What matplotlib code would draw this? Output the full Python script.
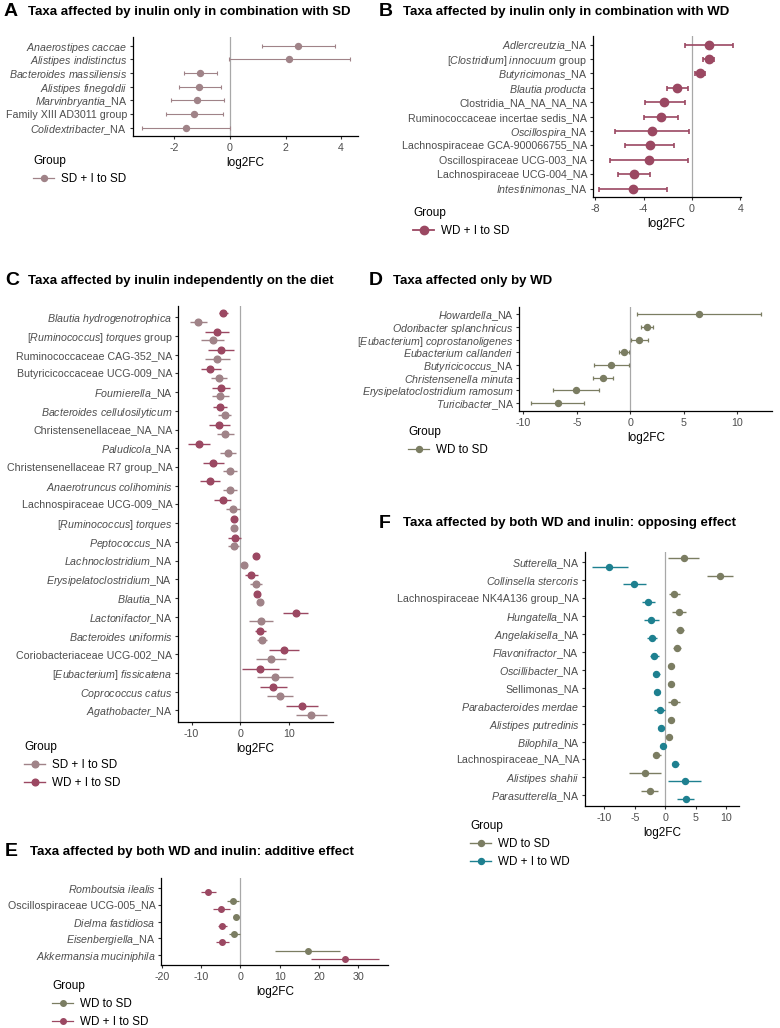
import re
import numpy as np
import matplotlib
matplotlib.use("Agg")
import matplotlib.pyplot as plt
from matplotlib.lines import Line2D

plt.rcParams['font.family'] = ['Liberation Sans', 'DejaVu Sans']
plt.rcParams['mathtext.fontset'] = 'custom'
plt.rcParams['mathtext.it'] = 'Liberation Sans:italic'
plt.rcParams['mathtext.rm'] = 'Liberation Sans'
plt.rcParams['mathtext.bf'] = 'Liberation Sans:bold'

# ---------------- colours ----------------
COL_SDI = '#A08388'   # SD + I to SD
COL_WDI = '#9B4862'   # WD + I to SD
COL_WD = '#7B7D62'    # WD to SD
COL_WDIW = '#1E8090'  # WD + I to WD

# ---------------- data ----------------
# Panel A
A_taxa = ["*Anaerostipes caccae*", "*Alistipes indistinctus*", "*Bacteroides massiliensis*",
          "*Alistipes finegoldii*", "*Marvinbryantia*_NA", "Family XIII AD3011 group",
          "*Colidextribacter*_NA"]
A_sdi_lfc = [2.44, 2.12, -1.07, -1.10, -1.19, -1.28, -1.58]
A_sdi_lo = [1.16, -0.02, -1.64, -1.83, -2.13, -2.30, -3.15]
A_sdi_hi = [3.77, 4.32, -0.46, -0.34, -0.22, -0.25, 0.00]

# Panel B
B_taxa = ["*Adlercreutzia*_NA", "[*Clostridium*] *innocuum* group", "*Butyricimonas*_NA",
          "*Blautia producta*", "Clostridia_NA_NA_NA_NA", "Ruminococcaceae incertae sedis_NA",
          "*Oscillospira*_NA", "Lachnospiraceae GCA-900066755_NA", "Oscillospiraceae UCG-003_NA",
          "Lachnospiraceae UCG-004_NA", "*Intestinimonas*_NA"]
B_wdi_lfc = [1.41, 1.38, 0.69, -1.21, -2.29, -2.59, -3.31, -3.48, -3.59, -4.80, -4.86]
B_wdi_lo = [-0.55, 0.88, 0.22, -2.10, -3.92, -4.00, -6.40, -5.52, -6.79, -6.10, -7.67]
B_wdi_hi = [3.39, 1.82, 1.10, -0.30, -0.61, -1.16, -0.22, -1.46, -0.36, -3.48, -2.07]

# Panel C
C_taxa = ["*Blautia hydrogenotrophica*", "[*Ruminococcus*] *torques* group",
          "Ruminococcaceae CAG-352_NA", "Butyricicoccaceae UCG-009_NA", "*Fournierella*_NA",
          "*Bacteroides cellulosilyticum*", "Christensenellaceae_NA_NA", "*Paludicola*_NA",
          "Christensenellaceae R7 group_NA", "*Anaerotruncus colihominis*",
          "Lachnospiraceae UCG-009_NA", "[*Ruminococcus*] *torques*", "*Peptococcus*_NA",
          "*Lachnoclostridium*_NA", "*Erysipelatoclostridium*_NA", "*Blautia*_NA",
          "*Lactonifactor*_NA", "*Bacteroides uniformis*", "Coriobacteriaceae UCG-002_NA",
          "[*Eubacterium*] *fissicatena*", "*Coprococcus catus*", "*Agathobacter*_NA"]
C_wdi_lfc = [-3.57, -4.88, -3.99, -6.12, -3.99, -4.19, -4.40, -8.52, -5.57, -6.32, -3.64,
             -1.31, -1.17, 3.30, 2.27, 3.37, 11.41, 4.12, 8.93, 4.12, 6.74, 12.65]
C_wdi_lo = [-4.33, -7.35, -6.60, -8.11, -5.77, -5.57, -6.53, -10.79, -7.63, -8.38, -5.43,
            -1.65, -2.54, 3.00, 1.03, 3.07, 8.87, 3.09, 5.84, 0.41, 4.05, 9.42]
C_wdi_hi = [-2.61, -2.41, -1.31, -3.92, -2.13, -2.68, -2.13, -6.19, -3.44, -4.12, -1.99,
            -0.97, 0.20, 3.60, 3.57, 3.67, 14.02, 5.22, 12.10, 7.90, 9.55, 15.88]
C_sdi_lfc = [-8.73, -5.70, -4.81, -4.40, -4.26, -3.23, -3.09, -2.54, -2.13, -2.13, -1.44,
             -1.31, -1.24, 0.82, 3.16, 4.05, 4.26, 4.54, 6.25, 7.08, 8.18, 14.64]
C_sdi_lo = [-10.38, -8.04, -7.29, -6.05, -5.91, -4.54, -4.88, -4.19, -3.57, -3.50, -2.89,
            -1.65, -2.61, 0.52, 1.99, 3.75, 1.79, 3.51, 3.23, 3.51, 5.57, 11.48]
C_sdi_hi = [-6.94, -3.30, -2.13, -2.68, -2.41, -1.92, -1.24, -0.96, -0.62, -0.69, -0.07,
            -0.97, -0.21, 1.12, 4.47, 4.35, 6.80, 5.57, 9.35, 10.79, 10.79, 17.80]

# Panel D
D_taxa = ["*Howardella*_NA", "*Odoribacter splanchnicus*", "[*Eubacterium*] *coprostanoligenes*",
          "*Eubacterium callanderi*", "*Butyricicoccus*_NA", "*Christensenella minuta*",
          "*Erysipelatoclostridium ramosum*", "*Turicibacter*_NA"]
D_wd_lfc = [6.45, 1.53, 0.84, -0.56, -1.78, -2.59, -5.08, -6.79]
D_wd_lo = [0.62, 0.97, 0.09, -1.09, -3.40, -3.46, -7.26, -9.25]
D_wd_hi = [12.21, 2.15, 1.68, -0.09, -0.16, -1.65, -2.90, -4.30]

# Panel E
E_taxa = ["*Romboutsia ilealis*", "Oscillospiraceae UCG-005_NA", "*Dielma fastidiosa*",
          "*Eisenbergiella*_NA", "*Akkermansia muciniphila*"]
E_wd_lfc = [np.nan, -1.86, -1.10, -1.53, 17.20]
E_wd_lo = [np.nan, -3.39, -1.78, -2.97, 8.90]
E_wd_hi = [np.nan, -0.34, -0.42, -0.08, 25.42]
E_wdi_lfc = [-8.31, -4.83, -4.58, -4.58, 26.53]
E_wdi_lo = [-10.08, -6.86, -5.59, -6.10, 17.97]
E_wdi_hi = [-6.27, -2.63, -3.39, -2.88, 35.17]

# Panel F
F_taxa = ["*Sutterella*_NA", "*Collinsella stercoris*", "Lachnospiraceae NK4A136 group_NA",
          "*Hungatella*_NA", "*Angelakisella*_NA", "*Flavonifractor*_NA", "*Oscillibacter*_NA",
          "Sellimonas_NA", "*Parabacteroides merdae*", "*Alistipes putredinis*",
          "*Bilophila*_NA", "Lachnospiraceae_NA_NA", "*Alistipes shahii*", "*Parasutterella*_NA"]
F_wd_lfc = [3.00, 8.91, 1.48, 2.19, 2.40, 1.91, 0.87, 0.87, 1.37, 0.98, 0.66, -1.48, -3.33, -2.57]
F_wd_lo = [0.49, 6.78, 0.60, 1.04, 1.75, 1.20, 0.40, 0.40, 0.49, 0.49, 0.25, -2.08, -6.01, -4.04]
F_wd_hi = [5.57, 11.04, 2.46, 3.39, 3.00, 2.57, 1.35, 1.35, 2.35, 1.47, 1.05, -0.77, -0.71, -1.15]
F_wdiw_lfc = [-9.18, -5.08, -2.79, -2.30, -2.19, -1.80, -1.48, -1.37, -0.93, -0.66, -0.33, 1.58, 3.17, 3.33]
F_wdiw_lo = [-12.08, -6.89, -3.77, -3.50, -2.95, -2.46, -2.02, -1.85, -1.91, -1.09, -0.70, 1.04, 0.49, 1.97]
F_wdiw_hi = [-6.12, -3.22, -1.69, -1.09, -1.37, -1.09, -0.93, -0.85, 0.00, -0.22, 0.05, 2.19, 5.90, 4.75]

# ---------------- helpers ----------------
W, H = 780, 1028
fig = plt.figure(figsize=(W / 100, H / 100), dpi=100)


def fmt(label):
    def rep(m):
        inner = m.group(1).replace(' ', r'\ ')
        return r'$\mathit{' + inner + '}$'
    return re.sub(r'\*(.+?)\*', rep, label)


def axes_px(left, right, top, bottom):
    return fig.add_axes([left / W, 1 - bottom / H, (right - left) / W, (bottom - top) / H])


TICK_COL = '#4D4D4D'


def panel(ax, taxa, series, xlim, xticks, ms, lw, cap, dodge=0.23):
    n = len(taxa)
    ypos = np.arange(n)[::-1].astype(float)
    ax.axvline(0, color='#A8A8A8', lw=0.9, zorder=1)
    offs = [0.0] if len(series) == 1 else [dodge, -dodge]
    for (color, est, lo, hi), off in zip(series, offs):
        est = np.asarray(est, float)
        lo = np.asarray(lo, float)
        hi = np.asarray(hi, float)
        ok = ~np.isnan(est)
        ax.errorbar(est[ok], ypos[ok] + off, xerr=[est[ok] - lo[ok], hi[ok] - est[ok]],
                    fmt='o', color=color, ms=ms, lw=lw, capsize=cap, capthick=lw, zorder=3)
    ax.set_yticks(ypos)
    ax.set_yticklabels([fmt(t) for t in taxa])
    ax.set_ylim(-0.6, n - 1 + 0.6)
    ax.set_xlim(*xlim)
    ax.set_xticks(xticks)
    ax.set_xticklabels([str(t) for t in xticks])
    for s in ['top', 'right']:
        ax.spines[s].set_visible(False)
    for s in ['left', 'bottom']:
        ax.spines[s].set_linewidth(0.9)
        ax.spines[s].set_color('black')
    ax.tick_params(axis='both', length=2.5, width=0.8, color='#333333',
                   labelcolor=TICK_COL, labelsize=7.7, pad=1.5)
    ax.tick_params(axis='x', pad=2.5)
    ax.set_xlabel('log2FC', fontsize=8.5, color='black', labelpad=3)
    ax.patch.set_alpha(0)


def title(x_letter, x_text, y, letter, text):
    fig.text(x_letter / W, 1 - y / H, letter, fontsize=14, fontweight='bold',
             va='center', ha='left')
    fig.text(x_text / W, 1 - y / H, text, fontsize=9.5, fontweight='bold',
             va='center', ha='left')


def legend(x, y, entries, ms, lw):
    handles = [Line2D([0], [0], color=c, marker='o', ms=ms, lw=lw) for c, _ in entries]
    labels = [l for _, l in entries]
    lg = fig.legend(handles, labels, title='Group', loc='upper left',
                    bbox_to_anchor=(x / W, 1 - y / H), frameon=False, fontsize=8.4,
                    title_fontsize=8.5, alignment='left', borderpad=0, borderaxespad=0,
                    handlelength=1.8, handletextpad=0.6, labelspacing=0.5)
    return lg


# ---------------- Panel A ----------------
axA = axes_px(132.5, 358, 37.3, 136)
panel(axA, A_taxa, [(COL_SDI, A_sdi_lfc, A_sdi_lo, A_sdi_hi)],
      (-3.51, 4.61), [-2, 0, 2, 4], ms=4.3, lw=0.8, cap=1.2)
title(4, 28, 12, 'A', 'Taxa affected by inulin only in combination with SD')
legend(33, 155, [(COL_SDI, 'SD + I to SD')], ms=4.3, lw=0.9)

# ---------------- Panel B ----------------
axB = axes_px(592.7, 740.7, 36, 197.3)
panel(axB, B_taxa, [(COL_WDI, B_wdi_lfc, B_wdi_lo, B_wdi_hi)],
      (-8.22, 4.03), [-8, -4, 0, 4], ms=6.0, lw=1.2, cap=1.8)
title(379, 403, 12, 'B', 'Taxa affected by inulin only in combination with WD')
legend(413, 207, [(COL_WDI, 'WD + I to SD')], ms=6.0, lw=1.3)

# ---------------- Panel C ----------------
axC = axes_px(178, 332.7, 306, 721.7)
panel(axC, C_taxa, [(COL_WDI, C_wdi_lfc, C_wdi_lo, C_wdi_hi),
                    (COL_SDI, C_sdi_lfc, C_sdi_lo, C_sdi_hi)],
      (-12.8, 19.0), [-10, 0, 10], ms=4.8, lw=1.0, cap=0.0)
title(5, 28, 281, 'C', 'Taxa affected by inulin independently on the diet')
legend(24, 741, [(COL_SDI, 'SD + I to SD'), (COL_WDI, 'WD + I to SD')], ms=4.8, lw=1.0)

# ---------------- Panel D ----------------
axD = axes_px(519.3, 772.3, 306.7, 410.7)
panel(axD, D_taxa, [(COL_WD, D_wd_lfc, D_wd_lo, D_wd_hi)],
      (-10.37, 13.27), [-10, -5, 0, 5, 10], ms=4.3, lw=0.9, cap=1.2)
title(369, 393, 281, 'D', 'Taxa affected only by WD')
legend(408, 426, [(COL_WD, 'WD to SD')], ms=4.3, lw=0.9)

# ---------------- Panel E ----------------
axE = axes_px(161.3, 388.3, 878.3, 965)
panel(axE, E_taxa, [(COL_WD, E_wd_lfc, E_wd_lo, E_wd_hi),
                    (COL_WDI, E_wdi_lfc, E_wdi_lo, E_wdi_hi)],
      (-20.1, 37.6), [-20, -10, 0, 10, 20, 30], ms=4.0, lw=0.9, cap=0.0, dodge=0.25)
title(5, 30, 852, 'E', 'Taxa affected by both WD and inulin: additive effect')
legend(52, 980, [(COL_WD, 'WD to SD'), (COL_WDI, 'WD + I to SD')], ms=4.0, lw=0.9)

# ---------------- Panel F ----------------
axF = axes_px(585, 739, 551.7, 806)
panel(axF, F_taxa, [(COL_WD, F_wd_lfc, F_wd_lo, F_wd_hi),
                    (COL_WDIW, F_wdiw_lfc, F_wdiw_lo, F_wdiw_hi)],
      (-13.17, 12.08), [-10, -5, 0, 5, 10], ms=4.3, lw=1.0, cap=0.0)
title(379, 403, 523, 'F', 'Taxa affected by both WD and inulin: opposing effect')
legend(470, 820, [(COL_WD, 'WD to SD'), (COL_WDIW, 'WD + I to WD')], ms=4.3, lw=1.0)

fig.savefig('out.png', dpi=100, facecolor='white')
